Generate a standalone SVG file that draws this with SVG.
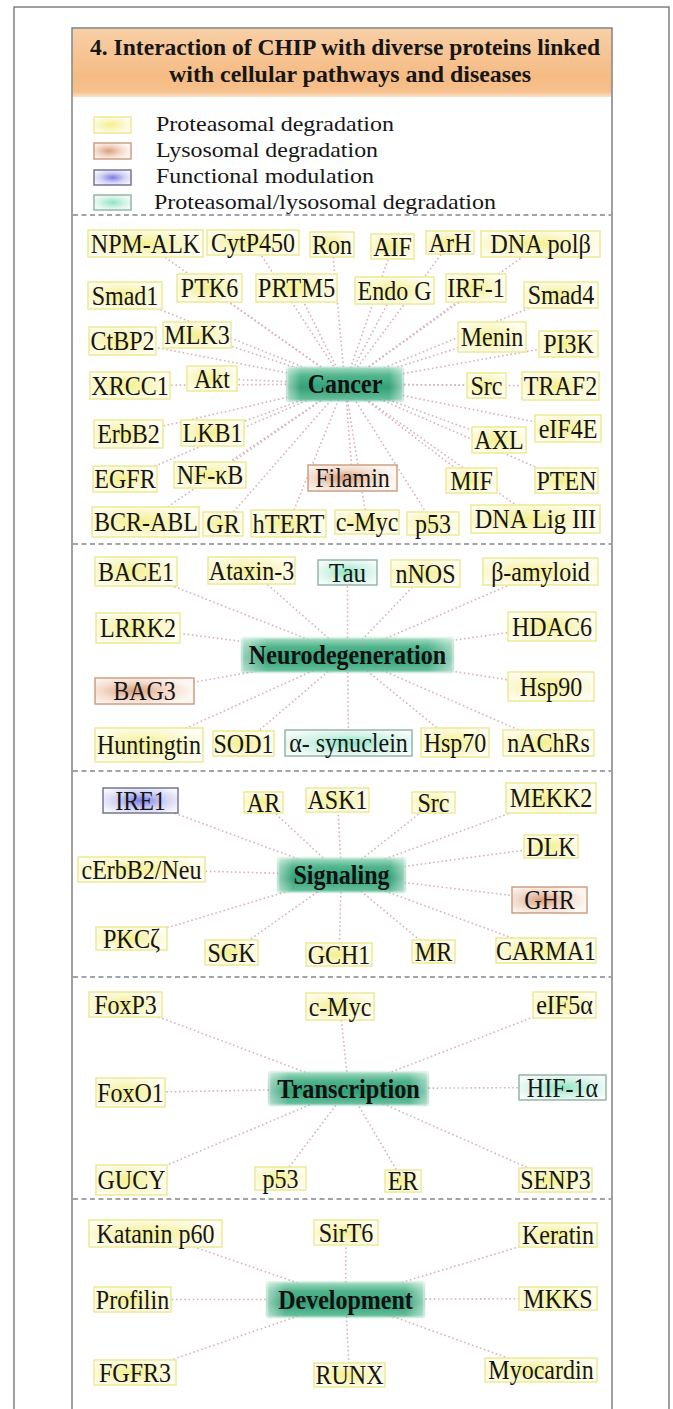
<svg xmlns="http://www.w3.org/2000/svg" width="673" height="1409" viewBox="0 0 673 1409">
  <defs>
    <linearGradient id="hdr" x1="0" y1="0" x2="0" y2="1">
      <stop offset="0" stop-color="#f8cfa6"/>
      <stop offset="0.7" stop-color="#f5bb84"/>
      <stop offset="0.92" stop-color="#f6c08c"/>
      <stop offset="1" stop-color="#fbe3cc"/>
    </linearGradient>
    <radialGradient id="gy" cx="0.45" cy="0.5" r="0.6">
      <stop offset="0" stop-color="#f4f08c"/>
      <stop offset="0.55" stop-color="#faf7c8"/>
      <stop offset="1" stop-color="#fffef2"/>
    </radialGradient>
    <radialGradient id="gl" cx="0.4" cy="0.5" r="0.6">
      <stop offset="0" stop-color="#d99f7c"/>
      <stop offset="0.55" stop-color="#f3dacb"/>
      <stop offset="1" stop-color="#fdf7f3"/>
    </radialGradient>
    <radialGradient id="gb" cx="0.5" cy="0.5" r="0.6">
      <stop offset="0" stop-color="#7c7ce8"/>
      <stop offset="0.55" stop-color="#d2d2f4"/>
      <stop offset="1" stop-color="#f7f7fd"/>
    </radialGradient>
    <radialGradient id="gt" cx="0.5" cy="0.5" r="0.6">
      <stop offset="0" stop-color="#8ce6c4"/>
      <stop offset="0.55" stop-color="#d3f3e7"/>
      <stop offset="1" stop-color="#f6fcf9"/>
    </radialGradient>
    <linearGradient id="hubV" x1="0" y1="0" x2="0" y2="1">
      <stop offset="0" stop-color="#a6dec4"/>
      <stop offset="0.25" stop-color="#52b58e"/>
      <stop offset="0.6" stop-color="#33a078"/>
      <stop offset="1" stop-color="#68c29d"/>
    </linearGradient>
    <linearGradient id="hubH" x1="0" y1="0" x2="1" y2="0">
      <stop offset="0" stop-color="#ffffff" stop-opacity="0.5"/>
      <stop offset="0.12" stop-color="#ffffff" stop-opacity="0"/>
      <stop offset="0.88" stop-color="#ffffff" stop-opacity="0"/>
      <stop offset="1" stop-color="#ffffff" stop-opacity="0.5"/>
    </linearGradient>
    <filter id="soft" x="-10%" y="-30%" width="120%" height="160%">
      <feGaussianBlur stdDeviation="0.9"/>
    </filter>
  </defs>
  <style>
    .frame{fill:none;stroke:#6e6e6e;stroke-width:1.3}
    .sep{stroke:#85858f;stroke-width:1.3;stroke-dasharray:5 3.5}
    .links line{stroke:#d8b2bc;stroke-width:1.6;stroke-dasharray:1.6 2.6}
    .node rect,.sw{stroke-width:1.4}
    .y rect,.sw.y{fill:url(#gy);stroke:#ece88e}
    .ly rect,.sw.ly{fill:url(#gl);stroke:#c9997a}
    .fm rect,.sw.fm{fill:url(#gb);stroke:#6c6c8c}
    .pl rect,.sw.pl{fill:url(#gt);stroke:#8fb0a6}
    text{font-family:"Liberation Serif","Times New Roman",serif;fill:#161616}
    .node text{font-size:26.5px;text-anchor:middle}
    .hub text{font-size:26.5px;font-weight:bold;text-anchor:middle;fill:#111}
    .legend text{font-size:22px}
    .title text{font-size:23px;font-weight:bold;text-anchor:middle}
    .hb{fill:url(#hubV)}
    .hh{fill:url(#hubH)}
  </style>

  <rect width="673" height="1409" fill="#ffffff"/>
  <!-- frames -->
  <rect class="frame" x="14" y="7" width="655" height="1420"/>
  <rect x="72" y="28" width="540" height="1400" fill="#ffffff"/>
  <rect x="72.6" y="28.6" width="538.8" height="68.5" fill="url(#hdr)"/>
  <rect class="frame" x="72" y="28" width="540" height="1400" stroke="#555"/>

  <g id="title" class="title">
    <text x="345" y="55" textLength="510" lengthAdjust="spacingAndGlyphs">4. Interaction of CHIP with diverse proteins linked</text>
    <text x="350" y="82" textLength="362" lengthAdjust="spacingAndGlyphs">with cellular pathways and diseases</text>
  </g>

  <g id="legend" class="legend">
    <rect class="sw y" x="94" y="117" width="37" height="16"/>
    <rect class="sw ly" x="94" y="143" width="37" height="16"/>
    <rect class="sw fm" x="94" y="170" width="37" height="15"/>
    <rect class="sw pl" x="94" y="195" width="37" height="15"/>
    <text x="156" y="131" textLength="238" lengthAdjust="spacingAndGlyphs">Proteasomal degradation</text>
    <text x="156" y="157" textLength="222" lengthAdjust="spacingAndGlyphs">Lysosomal degradation</text>
    <text x="156" y="183" textLength="218" lengthAdjust="spacingAndGlyphs">Functional modulation</text>
    <text x="154" y="209" textLength="342" lengthAdjust="spacingAndGlyphs">Proteasomal/lysosomal degradation</text>
  </g>

  <!-- section separators -->
  <g id="separators">
    <line class="sep" x1="73" y1="215" x2="611" y2="215"/>
    <line class="sep" x1="73" y1="544" x2="611" y2="544"/>
    <line class="sep" x1="73" y1="771" x2="611" y2="771"/>
    <line class="sep" x1="73" y1="977" x2="611" y2="977"/>
    <line class="sep" x1="73" y1="1199" x2="611" y2="1199"/>
  </g>

  <!-- connectors: hub centre to each partner -->
  <g id="connectors" class="links">
    <!-- Cancer -->
    <line x1="345" y1="384" x2="145.5" y2="243.5"/>
    <line x1="345" y1="384" x2="253" y2="242.5"/>
    <line x1="345" y1="384" x2="332" y2="244.5"/>
    <line x1="345" y1="384" x2="392.5" y2="246.5"/>
    <line x1="345" y1="384" x2="450" y2="242.5"/>
    <line x1="345" y1="384" x2="540.5" y2="244"/>
    <line x1="345" y1="384" x2="125" y2="295.5"/>
    <line x1="345" y1="384" x2="209.5" y2="288"/>
    <line x1="345" y1="384" x2="296.5" y2="288"/>
    <line x1="345" y1="384" x2="394.5" y2="290.5"/>
    <line x1="345" y1="384" x2="476" y2="288"/>
    <line x1="345" y1="384" x2="561" y2="295"/>
    <line x1="345" y1="384" x2="122.5" y2="341"/>
    <line x1="345" y1="384" x2="197" y2="335"/>
    <line x1="345" y1="384" x2="492" y2="337"/>
    <line x1="345" y1="384" x2="568.5" y2="344"/>
    <line x1="345" y1="384" x2="130" y2="385.5"/>
    <line x1="345" y1="384" x2="212" y2="378.5"/>
    <line x1="345" y1="384" x2="486.5" y2="385.5"/>
    <line x1="345" y1="384" x2="560.5" y2="386"/>
    <line x1="345" y1="384" x2="128.5" y2="434"/>
    <line x1="345" y1="384" x2="212.5" y2="433"/>
    <line x1="345" y1="384" x2="499" y2="440"/>
    <line x1="345" y1="384" x2="568" y2="428.5"/>
    <line x1="345" y1="384" x2="125" y2="479"/>
    <line x1="345" y1="384" x2="210" y2="475"/>
    <line x1="345" y1="384" x2="352.5" y2="478"/>
    <line x1="345" y1="384" x2="471.5" y2="480.5"/>
    <line x1="345" y1="384" x2="566.5" y2="480.5"/>
    <line x1="345" y1="384" x2="146" y2="522"/>
    <line x1="345" y1="384" x2="223" y2="524"/>
    <line x1="345" y1="384" x2="288.5" y2="523.5"/>
    <line x1="345" y1="384" x2="367" y2="522"/>
    <line x1="345" y1="384" x2="433" y2="523.5"/>
    <line x1="345" y1="384" x2="535.5" y2="519"/>
    <!-- Neurodegeneration -->
    <line x1="347.5" y1="655" x2="136" y2="571.5"/>
    <line x1="347.5" y1="655" x2="251.5" y2="570.5"/>
    <line x1="347.5" y1="655" x2="347.5" y2="572.5"/>
    <line x1="347.5" y1="655" x2="425.5" y2="573.5"/>
    <line x1="347.5" y1="655" x2="540.5" y2="571.5"/>
    <line x1="347.5" y1="655" x2="138" y2="628"/>
    <line x1="347.5" y1="655" x2="552" y2="626.5"/>
    <line x1="347.5" y1="655" x2="144.5" y2="691"/>
    <line x1="347.5" y1="655" x2="551" y2="686.5"/>
    <line x1="347.5" y1="655" x2="149" y2="745"/>
    <line x1="347.5" y1="655" x2="243.5" y2="743.5"/>
    <line x1="347.5" y1="655" x2="348.5" y2="743"/>
    <line x1="347.5" y1="655" x2="455" y2="742.5"/>
    <line x1="347.5" y1="655" x2="548.5" y2="743"/>
    <!-- Signaling -->
    <line x1="341.5" y1="875" x2="140.5" y2="800.5"/>
    <line x1="341.5" y1="875" x2="263.5" y2="802.5"/>
    <line x1="341.5" y1="875" x2="337.5" y2="800"/>
    <line x1="341.5" y1="875" x2="433.5" y2="802.5"/>
    <line x1="341.5" y1="875" x2="551" y2="798"/>
    <line x1="341.5" y1="875" x2="551" y2="846.5"/>
    <line x1="341.5" y1="875" x2="141.5" y2="869.5"/>
    <line x1="341.5" y1="875" x2="549.5" y2="900"/>
    <line x1="341.5" y1="875" x2="131.5" y2="938.5"/>
    <line x1="341.5" y1="875" x2="231.5" y2="952.5"/>
    <line x1="341.5" y1="875" x2="339" y2="954.5"/>
    <line x1="341.5" y1="875" x2="433.5" y2="951.5"/>
    <line x1="341.5" y1="875" x2="546" y2="950.5"/>
    <!-- Transcription -->
    <line x1="348.5" y1="1088.5" x2="125.5" y2="1004.5"/>
    <line x1="348.5" y1="1088.5" x2="340" y2="1006.5"/>
    <line x1="348.5" y1="1088.5" x2="564.5" y2="1005"/>
    <line x1="348.5" y1="1088.5" x2="130.5" y2="1092.5"/>
    <line x1="348.5" y1="1088.5" x2="562.5" y2="1087.5"/>
    <line x1="348.5" y1="1088.5" x2="131.5" y2="1180"/>
    <line x1="348.5" y1="1088.5" x2="280.5" y2="1178.5"/>
    <line x1="348.5" y1="1088.5" x2="403" y2="1181"/>
    <line x1="348.5" y1="1088.5" x2="555.5" y2="1180"/>
    <!-- Development -->
    <line x1="345.5" y1="1299.5" x2="155.5" y2="1233.5"/>
    <line x1="345.5" y1="1299.5" x2="346" y2="1232.5"/>
    <line x1="345.5" y1="1299.5" x2="558" y2="1235"/>
    <line x1="345.5" y1="1299.5" x2="132.5" y2="1299.5"/>
    <line x1="345.5" y1="1299.5" x2="558" y2="1298.5"/>
    <line x1="345.5" y1="1299.5" x2="135" y2="1372.5"/>
    <line x1="345.5" y1="1299.5" x2="349.5" y2="1375"/>
    <line x1="345.5" y1="1299.5" x2="541" y2="1370"/>
  </g>

  <!-- Cancer -->
  <g id="hub-cancer" class="hub"><rect class="hb" x="287" y="367" width="116" height="34" filter="url(#soft)"/><rect class="hh" x="287" y="367" width="116" height="34"/><text x="345" y="393" textLength="74.6" lengthAdjust="spacingAndGlyphs">Cancer</text></g>
  <g id="n-npm-alk" class="node y"><rect x="88" y="230" width="115" height="27"/><text x="145.5" y="252.5" textLength="109.3" lengthAdjust="spacingAndGlyphs">NPM-ALK</text></g>
  <g id="n-cytp450" class="node y"><rect x="207" y="230" width="92" height="25"/><text x="253" y="251.5" textLength="84" lengthAdjust="spacingAndGlyphs">CytP450</text></g>
  <g id="n-ron" class="node y"><rect x="310" y="232" width="44" height="25"/><text x="332" y="253.5" textLength="40" lengthAdjust="spacingAndGlyphs">Ron</text></g>
  <g id="n-aif" class="node y"><rect x="371" y="234" width="43" height="25"/><text x="392.5" y="255.5" textLength="38.7" lengthAdjust="spacingAndGlyphs">AIF</text></g>
  <g id="n-arh" class="node y"><rect x="426" y="231" width="48" height="23"/><text x="450" y="251.5" textLength="42.6" lengthAdjust="spacingAndGlyphs">ArH</text></g>
  <g id="n-dna-polb" class="node y"><rect x="481" y="231" width="119" height="26"/><text x="540.5" y="253" textLength="100.7" lengthAdjust="spacingAndGlyphs">DNA polβ</text></g>
  <g id="n-smad1" class="node y"><rect x="88" y="282" width="74" height="27"/><text x="125" y="304.5" textLength="66.7" lengthAdjust="spacingAndGlyphs">Smad1</text></g>
  <g id="n-ptk6" class="node y"><rect x="177" y="274" width="65" height="28"/><text x="209.5" y="297" textLength="57.3" lengthAdjust="spacingAndGlyphs">PTK6</text></g>
  <g id="n-prtm5" class="node y"><rect x="256" y="274" width="81" height="28"/><text x="296.5" y="297" textLength="77.4" lengthAdjust="spacingAndGlyphs">PRTM5</text></g>
  <g id="n-endog" class="node y"><rect x="355" y="277" width="79" height="27"/><text x="394.5" y="299.5" textLength="74" lengthAdjust="spacingAndGlyphs">Endo G</text></g>
  <g id="n-irf1" class="node y"><rect x="446" y="274" width="60" height="28"/><text x="476" y="297" textLength="57.3" lengthAdjust="spacingAndGlyphs">IRF-1</text></g>
  <g id="n-smad4" class="node y"><rect x="524" y="282" width="74" height="26"/><text x="561" y="304" textLength="66.7" lengthAdjust="spacingAndGlyphs">Smad4</text></g>
  <g id="n-ctbp2" class="node y"><rect x="89" y="327" width="67" height="28"/><text x="122.5" y="350" textLength="64" lengthAdjust="spacingAndGlyphs">CtBP2</text></g>
  <g id="n-mlk3" class="node y"><rect x="163" y="322" width="68" height="26"/><text x="197" y="344" textLength="65.3" lengthAdjust="spacingAndGlyphs">MLK3</text></g>
  <g id="n-menin" class="node y"><rect x="458" y="322" width="68" height="30"/><text x="492" y="346" textLength="62.7" lengthAdjust="spacingAndGlyphs">Menin</text></g>
  <g id="n-pi3k" class="node y"><rect x="539" y="331" width="59" height="26"/><text x="568.5" y="353" textLength="50.7" lengthAdjust="spacingAndGlyphs">PI3K</text></g>
  <g id="n-xrcc1" class="node y"><rect x="90" y="372" width="80" height="27"/><text x="130" y="394.5" textLength="77.4" lengthAdjust="spacingAndGlyphs">XRCC1</text></g>
  <g id="n-akt" class="node y"><rect x="187" y="366" width="50" height="25"/><text x="212" y="387.5" textLength="36" lengthAdjust="spacingAndGlyphs">Akt</text></g>
  <g id="n-src-c" class="node y"><rect x="467" y="373" width="39" height="25"/><text x="486.5" y="394.5" textLength="32" lengthAdjust="spacingAndGlyphs">Src</text></g>
  <g id="n-traf2" class="node y"><rect x="522" y="372" width="77" height="28"/><text x="560.5" y="395" textLength="73.3" lengthAdjust="spacingAndGlyphs">TRAF2</text></g>
  <g id="n-erbb2" class="node y"><rect x="94" y="420" width="69" height="28"/><text x="128.5" y="443" textLength="62.7" lengthAdjust="spacingAndGlyphs">ErbB2</text></g>
  <g id="n-lkb1" class="node y"><rect x="181" y="420" width="63" height="26"/><text x="212.5" y="442" textLength="60" lengthAdjust="spacingAndGlyphs">LKB1</text></g>
  <g id="n-axl" class="node y"><rect x="472" y="427" width="54" height="26"/><text x="499" y="449" textLength="49.3" lengthAdjust="spacingAndGlyphs">AXL</text></g>
  <g id="n-eif4e" class="node y"><rect x="535" y="415" width="66" height="27"/><text x="568" y="437.5" textLength="58.7" lengthAdjust="spacingAndGlyphs">eIF4E</text></g>
  <g id="n-egfr" class="node y"><rect x="93" y="466" width="64" height="26"/><text x="125" y="488" textLength="61.3" lengthAdjust="spacingAndGlyphs">EGFR</text></g>
  <g id="n-nfkb" class="node y"><rect x="174" y="462" width="72" height="26"/><text x="210" y="484" textLength="66.7" lengthAdjust="spacingAndGlyphs">NF-κB</text></g>
  <g id="n-filamin" class="node ly"><rect x="308" y="465" width="89" height="26"/><text x="352.5" y="487" textLength="74.7" lengthAdjust="spacingAndGlyphs">Filamin</text></g>
  <g id="n-mif" class="node y"><rect x="446" y="468" width="51" height="25"/><text x="471.5" y="489.5" textLength="42.7" lengthAdjust="spacingAndGlyphs">MIF</text></g>
  <g id="n-pten" class="node y"><rect x="535" y="468" width="63" height="25"/><text x="566.5" y="489.5" textLength="60" lengthAdjust="spacingAndGlyphs">PTEN</text></g>
  <g id="n-bcr-abl" class="node y"><rect x="92" y="507" width="107" height="30"/><text x="146" y="531" textLength="104" lengthAdjust="spacingAndGlyphs">BCR-ABL</text></g>
  <g id="n-gr" class="node y"><rect x="203" y="512" width="40" height="24"/><text x="223" y="533" textLength="33.3" lengthAdjust="spacingAndGlyphs">GR</text></g>
  <g id="n-htert" class="node y"><rect x="251" y="510" width="75" height="27"/><text x="288.5" y="532.5" textLength="72" lengthAdjust="spacingAndGlyphs">hTERT</text></g>
  <g id="n-cmyc-c" class="node y"><rect x="335" y="510" width="64" height="24"/><text x="367" y="531" textLength="62.6" lengthAdjust="spacingAndGlyphs">c-Myc</text></g>
  <g id="n-p53-c" class="node y"><rect x="407" y="512" width="52" height="23"/><text x="433" y="532.5" textLength="36" lengthAdjust="spacingAndGlyphs">p53</text></g>
  <g id="n-dna-lig3" class="node y"><rect x="471" y="505" width="129" height="28"/><text x="535.5" y="528" textLength="121.3" lengthAdjust="spacingAndGlyphs">DNA Lig III</text></g>

  <!-- Neurodegeneration -->
  <g id="hub-neuro" class="hub"><rect class="hb" x="242" y="638" width="211" height="34" filter="url(#soft)"/><rect class="hh" x="242" y="638" width="211" height="34"/><text x="347.5" y="664" textLength="197.3" lengthAdjust="spacingAndGlyphs">Neurodegeneration</text></g>
  <g id="n-bace1" class="node y"><rect x="95" y="557" width="82" height="29"/><text x="136" y="580.5" textLength="76" lengthAdjust="spacingAndGlyphs">BACE1</text></g>
  <g id="n-ataxin3" class="node y"><rect x="208" y="557" width="87" height="27"/><text x="251.5" y="579.5" textLength="85.3" lengthAdjust="spacingAndGlyphs">Ataxin-3</text></g>
  <g id="n-tau" class="node pl"><rect x="318" y="560" width="59" height="25"/><text x="347.5" y="581.5" textLength="37.3" lengthAdjust="spacingAndGlyphs">Tau</text></g>
  <g id="n-nnos" class="node y"><rect x="391" y="560" width="69" height="27"/><text x="425.5" y="582.5" textLength="60" lengthAdjust="spacingAndGlyphs">nNOS</text></g>
  <g id="n-b-amyloid" class="node y"><rect x="483" y="558" width="115" height="27"/><text x="540.5" y="580.5" textLength="98.7" lengthAdjust="spacingAndGlyphs">β-amyloid</text></g>
  <g id="n-lrrk2" class="node y"><rect x="96" y="613" width="84" height="30"/><text x="138" y="637" textLength="76" lengthAdjust="spacingAndGlyphs">LRRK2</text></g>
  <g id="n-hdac6" class="node y"><rect x="508" y="612" width="88" height="29"/><text x="552" y="635.5" textLength="80" lengthAdjust="spacingAndGlyphs">HDAC6</text></g>
  <g id="n-bag3" class="node ly"><rect x="95" y="678" width="99" height="26"/><text x="144.5" y="700" textLength="62.7" lengthAdjust="spacingAndGlyphs">BAG3</text></g>
  <g id="n-hsp90" class="node y"><rect x="508" y="672" width="86" height="29"/><text x="551" y="695.5" textLength="62.7" lengthAdjust="spacingAndGlyphs">Hsp90</text></g>
  <g id="n-huntingtin" class="node y"><rect x="95" y="728" width="108" height="34"/><text x="149" y="754" textLength="104" lengthAdjust="spacingAndGlyphs">Huntingtin</text></g>
  <g id="n-sod1" class="node y"><rect x="213" y="731" width="61" height="25"/><text x="243.5" y="752.5" textLength="60" lengthAdjust="spacingAndGlyphs">SOD1</text></g>
  <g id="n-a-synuclein" class="node pl"><rect x="285" y="730" width="127" height="26"/><text x="348.5" y="752" textLength="118.7" lengthAdjust="spacingAndGlyphs">α- synuclein</text></g>
  <g id="n-hsp70" class="node y"><rect x="421" y="728" width="68" height="29"/><text x="455" y="751.5" textLength="62.7" lengthAdjust="spacingAndGlyphs">Hsp70</text></g>
  <g id="n-nachrs" class="node y"><rect x="503" y="730" width="91" height="26"/><text x="548.5" y="752" textLength="82.7" lengthAdjust="spacingAndGlyphs">nAChRs</text></g>

  <!-- Signaling -->
  <g id="hub-signaling" class="hub"><rect class="hb" x="278" y="858" width="127" height="34" filter="url(#soft)"/><rect class="hh" x="278" y="858" width="127" height="34"/><text x="341.5" y="884" textLength="96" lengthAdjust="spacingAndGlyphs">Signaling</text></g>
  <g id="n-ire1" class="node fm"><rect x="103" y="788" width="75" height="25"/><text x="140.5" y="809.5" textLength="50.7" lengthAdjust="spacingAndGlyphs">IRE1</text></g>
  <g id="n-ar" class="node y"><rect x="244" y="792" width="39" height="21"/><text x="263.5" y="811.5" textLength="33.3" lengthAdjust="spacingAndGlyphs">AR</text></g>
  <g id="n-ask1" class="node y"><rect x="306" y="788" width="63" height="24"/><text x="337.5" y="809" textLength="60" lengthAdjust="spacingAndGlyphs">ASK1</text></g>
  <g id="n-src-s" class="node y"><rect x="412" y="792" width="43" height="21"/><text x="433.5" y="811.5" textLength="32" lengthAdjust="spacingAndGlyphs">Src</text></g>
  <g id="n-mekk2" class="node y"><rect x="506" y="783" width="90" height="30"/><text x="551" y="807" textLength="82.7" lengthAdjust="spacingAndGlyphs">MEKK2</text></g>
  <g id="n-dlk" class="node y"><rect x="524" y="835" width="54" height="23"/><text x="551" y="855.5" textLength="49.3" lengthAdjust="spacingAndGlyphs">DLK</text></g>
  <g id="n-cerbb2" class="node y"><rect x="78" y="857" width="127" height="25"/><text x="141.5" y="878.5" textLength="120" lengthAdjust="spacingAndGlyphs">cErbB2/Neu</text></g>
  <g id="n-ghr" class="node ly"><rect x="512" y="887" width="75" height="26"/><text x="549.5" y="909" textLength="50.7" lengthAdjust="spacingAndGlyphs">GHR</text></g>
  <g id="n-pkcz" class="node y"><rect x="96" y="927" width="71" height="23"/><text x="131.5" y="947.5" textLength="57.2" lengthAdjust="spacingAndGlyphs">PKCζ</text></g>
  <g id="n-sgk" class="node y"><rect x="205" y="940" width="53" height="25"/><text x="231.5" y="961.5" textLength="48" lengthAdjust="spacingAndGlyphs">SGK</text></g>
  <g id="n-gch1" class="node y"><rect x="306" y="943" width="66" height="23"/><text x="339" y="963.5" textLength="62.7" lengthAdjust="spacingAndGlyphs">GCH1</text></g>
  <g id="n-mr" class="node y"><rect x="412" y="940" width="43" height="23"/><text x="433.5" y="960.5" textLength="37.3" lengthAdjust="spacingAndGlyphs">MR</text></g>
  <g id="n-carma1" class="node y"><rect x="496" y="938" width="100" height="25"/><text x="546" y="959.5" textLength="100" lengthAdjust="spacingAndGlyphs">CARMA1</text></g>

  <!-- Transcription -->
  <g id="hub-transcription" class="hub"><rect class="hb" x="269" y="1072" width="159" height="33" filter="url(#soft)"/><rect class="hh" x="269" y="1072" width="159" height="33"/><text x="348.5" y="1097.5" textLength="142.7" lengthAdjust="spacingAndGlyphs">Transcription</text></g>
  <g id="n-foxp3" class="node y"><rect x="89" y="992" width="73" height="25"/><text x="125.5" y="1013.5" textLength="62.7" lengthAdjust="spacingAndGlyphs">FoxP3</text></g>
  <g id="n-cmyc-t" class="node y"><rect x="306" y="993" width="68" height="27"/><text x="340" y="1015.5" textLength="62.6" lengthAdjust="spacingAndGlyphs">c-Myc</text></g>
  <g id="n-eif5a" class="node y"><rect x="533" y="992" width="63" height="26"/><text x="564.5" y="1014" textLength="56.7" lengthAdjust="spacingAndGlyphs">eIF5α</text></g>
  <g id="n-foxo1" class="node y"><rect x="96" y="1078" width="69" height="29"/><text x="130.5" y="1101.5" textLength="66.7" lengthAdjust="spacingAndGlyphs">FoxO1</text></g>
  <g id="n-hif1a" class="node pl"><rect x="519" y="1075" width="87" height="25"/><text x="562.5" y="1096.5" textLength="71.4" lengthAdjust="spacingAndGlyphs">HIF-1α</text></g>
  <g id="n-gucy" class="node y"><rect x="96" y="1165" width="71" height="30"/><text x="131.5" y="1189" textLength="68" lengthAdjust="spacingAndGlyphs">GUCY</text></g>
  <g id="n-p53-t" class="node y"><rect x="255" y="1167" width="51" height="23"/><text x="280.5" y="1187.5" textLength="36" lengthAdjust="spacingAndGlyphs">p53</text></g>
  <g id="n-er" class="node y"><rect x="385" y="1170" width="36" height="22"/><text x="403" y="1190" textLength="30.7" lengthAdjust="spacingAndGlyphs">ER</text></g>
  <g id="n-senp3" class="node y"><rect x="519" y="1168" width="73" height="24"/><text x="555.5" y="1189" textLength="70.7" lengthAdjust="spacingAndGlyphs">SENP3</text></g>

  <!-- Development -->
  <g id="hub-development" class="hub"><rect class="hb" x="267" y="1282" width="157" height="35" filter="url(#soft)"/><rect class="hh" x="267" y="1282" width="157" height="35"/><text x="345.5" y="1308.5" textLength="134.6" lengthAdjust="spacingAndGlyphs">Development</text></g>
  <g id="n-katanin" class="node y"><rect x="89" y="1220" width="133" height="27"/><text x="155.5" y="1242.5" textLength="118" lengthAdjust="spacingAndGlyphs">Katanin p60</text></g>
  <g id="n-sirt6" class="node y"><rect x="314" y="1220" width="64" height="25"/><text x="346" y="1241.5" textLength="54.7" lengthAdjust="spacingAndGlyphs">SirT6</text></g>
  <g id="n-keratin" class="node y"><rect x="519" y="1223" width="78" height="24"/><text x="558" y="1244" textLength="72" lengthAdjust="spacingAndGlyphs">Keratin</text></g>
  <g id="n-profilin" class="node y"><rect x="94" y="1287" width="77" height="25"/><text x="132.5" y="1308.5" textLength="73.3" lengthAdjust="spacingAndGlyphs">Profilin</text></g>
  <g id="n-mkks" class="node y"><rect x="519" y="1287" width="78" height="23"/><text x="558" y="1307.5" textLength="69.3" lengthAdjust="spacingAndGlyphs">MKKS</text></g>
  <g id="n-fgfr3" class="node y"><rect x="94" y="1360" width="82" height="25"/><text x="135" y="1381.5" textLength="72" lengthAdjust="spacingAndGlyphs">FGFR3</text></g>
  <g id="n-runx" class="node y"><rect x="314" y="1363" width="71" height="24"/><text x="349.5" y="1384" textLength="68" lengthAdjust="spacingAndGlyphs">RUNX</text></g>
  <g id="n-myocardin" class="node y"><rect x="485" y="1358" width="112" height="24"/><text x="541" y="1379" textLength="105.3" lengthAdjust="spacingAndGlyphs">Myocardin</text></g>
</svg>
